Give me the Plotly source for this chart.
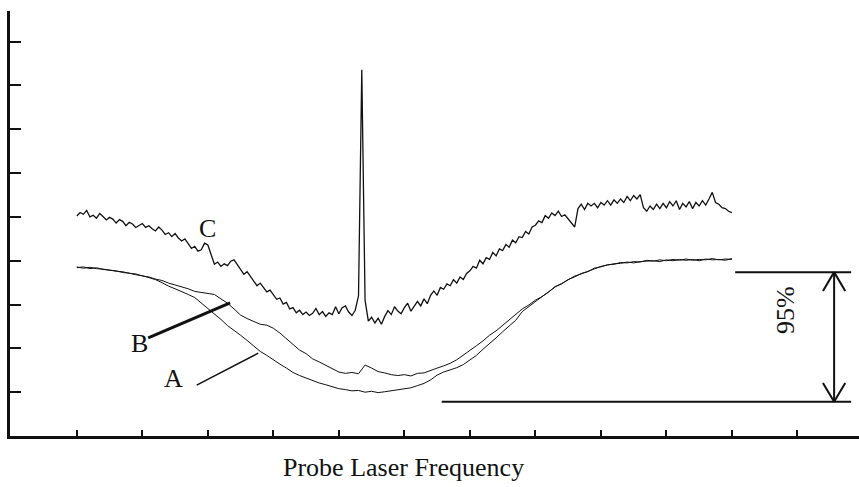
import plotly.graph_objects as go

# ---- data (arbitrary units, no tick labels) ----
freq_c = [round(i * 0.05, 2) for i in range(201)]          # frequency grid for trace C
freq_ab = [round(i * 0.1, 1) for i in range(101)]           # frequency grid for traces A, B

trace_c = [
    5.02, 5.10, 5.06, 5.15, 5.00, 5.04, 4.97, 5.08, 5.01, 4.93, 4.99, 4.95, 4.86, 4.94, 4.90, 4.80, 4.88, 4.84, 4.76, 4.80,
    4.85, 4.76, 4.80, 4.73, 4.68, 4.77, 4.70, 4.60, 4.64, 4.55, 4.62, 4.52, 4.45, 4.50, 4.38, 4.28, 4.33, 4.22, 4.25, 4.40,
    4.36, 4.12, 3.92, 3.97, 3.87, 3.93, 3.89, 3.99, 4.02, 3.91, 3.80, 3.69, 3.75, 3.64, 3.55, 3.43, 3.49, 3.38, 3.29, 3.33,
    3.22, 3.12, 3.15, 3.01, 3.05, 2.90, 2.93, 2.81, 2.87, 2.77, 2.83, 2.75, 2.80, 2.91, 2.77, 2.84, 2.73, 2.81, 2.77, 2.95,
    2.79, 2.93, 2.97, 2.83, 2.75, 2.87, 3.20, 8.36, 3.10, 2.62, 2.71, 2.58, 2.69, 2.55, 2.73, 2.86, 2.77, 2.95, 2.85, 2.79,
    2.93, 3.03, 2.85, 2.95, 3.07, 2.97, 3.13, 3.02, 3.21, 3.31, 3.21, 3.39, 3.35, 3.47, 3.43, 3.57, 3.49, 3.63, 3.57, 3.71,
    3.77, 3.87, 3.83, 4.01, 3.93, 4.07, 4.03, 4.19, 4.11, 4.27, 4.23, 4.37, 4.31, 4.47, 4.41, 4.55, 4.53, 4.67, 4.61, 4.77,
    4.81, 4.91, 4.87, 5.03, 4.97, 5.09, 5.03, 5.13, 5.01, 5.05, 4.95, 4.85, 4.77, 5.19, 5.29, 5.17, 5.31, 5.25, 5.31, 5.21,
    5.33, 5.27, 5.37, 5.27, 5.39, 5.31, 5.41, 5.33, 5.47, 5.37, 5.49, 5.41, 5.51, 5.21, 5.13, 5.25, 5.17, 5.29, 5.19, 5.31,
    5.21, 5.35, 5.25, 5.37, 5.17, 5.31, 5.23, 5.35, 5.19, 5.33, 5.25, 5.37, 5.27, 5.41, 5.56, 5.33, 5.29, 5.21, 5.19, 5.13,
    5.10,
]

trace_b = [
    3.84, 3.86, 3.82, 3.84, 3.80, 3.79, 3.76, 3.75, 3.71, 3.70,
    3.65, 3.63, 3.58, 3.55, 3.49, 3.45, 3.40, 3.36, 3.30, 3.28,
    3.25, 3.23, 3.13, 3.03, 2.90, 2.76, 2.68, 2.62, 2.55, 2.53,
    2.46, 2.35, 2.22, 2.10, 1.96, 1.88, 1.76, 1.69, 1.61, 1.53,
    1.46, 1.43, 1.45, 1.42, 1.62, 1.55, 1.47, 1.44, 1.40, 1.38,
    1.40, 1.37, 1.43, 1.44, 1.50, 1.55, 1.60, 1.66, 1.74, 1.84,
    1.94, 2.06, 2.17, 2.30, 2.40, 2.52, 2.66, 2.78, 2.90, 2.99,
    3.10, 3.18, 3.30, 3.40, 3.48, 3.56, 3.65, 3.70, 3.76, 3.82,
    3.87, 3.90, 3.93, 3.94, 3.97, 3.95, 3.98, 3.99, 4.00, 3.98,
    4.02, 4.00, 4.03, 4.01, 4.03, 4.00, 4.04, 4.02, 4.03, 4.01,
    4.05,
]

trace_a = [
    3.86, 3.83, 3.85, 3.82, 3.81, 3.78, 3.77, 3.73, 3.72, 3.68,
    3.66, 3.61, 3.57, 3.50, 3.42, 3.36, 3.30, 3.23, 3.16, 3.04,
    2.92, 2.80, 2.66, 2.52, 2.42, 2.30, 2.18, 2.06, 1.93, 1.84,
    1.73, 1.64, 1.55, 1.45, 1.38, 1.32, 1.26, 1.21, 1.17, 1.12,
    1.08, 1.06, 1.03, 1.04, 1.00, 1.02, 0.99, 1.01, 1.03, 1.05,
    1.07, 1.10, 1.15, 1.20, 1.28, 1.39, 1.46, 1.51, 1.56, 1.63,
    1.73, 1.84, 1.98, 2.10, 2.24, 2.38, 2.50, 2.64, 2.84, 2.96,
    3.08, 3.18, 3.28, 3.41, 3.47, 3.57, 3.63, 3.71, 3.75, 3.83,
    3.86, 3.91, 3.92, 3.96, 3.95, 3.98, 3.97, 4.01, 3.99, 4.02,
    4.00, 4.03, 4.01, 4.04, 4.01, 4.03, 4.02, 4.05, 4.02, 4.04,
    4.03,
]

x_ticks = list(range(0, 12))
y_ticks = list(range(1, 10))

FONT = "Liberation Serif, Times New Roman, serif"
INK = "#111111"

fig = go.Figure()
fig.add_trace(go.Scatter(x=freq_ab, y=trace_a, mode="lines", name="A",
                         line=dict(color=INK, width=1)))
fig.add_trace(go.Scatter(x=freq_ab, y=trace_b, mode="lines", name="B",
                         line=dict(color=INK, width=1)))
fig.add_trace(go.Scatter(x=freq_c, y=trace_c, mode="lines", name="C",
                         line=dict(color=INK, width=1.3)))

shapes = [
    # leader lines for labels
    dict(type="line", x0=1.09, y0=2.24, x1=2.34, y1=3.04, line=dict(color=INK, width=3)),
    dict(type="line", x0=1.83, y0=1.16, x1=2.77, y1=1.89, line=dict(color=INK, width=1.5)),
    # 95% bracket
    dict(type="line", x0=10.05, y0=3.74, x1=11.82, y1=3.74, line=dict(color=INK, width=2)),
    dict(type="line", x0=5.57, y0=0.78, x1=11.82, y1=0.78, line=dict(color=INK, width=2)),
    dict(type="line", x0=11.56, y0=3.74, x1=11.56, y1=0.78, line=dict(color=INK, width=2)),
    dict(type="line", x0=11.39, y0=3.31, x1=11.56, y1=3.74, line=dict(color=INK, width=2)),
    dict(type="line", x0=11.73, y0=3.31, x1=11.56, y1=3.74, line=dict(color=INK, width=2)),
    dict(type="line", x0=11.39, y0=1.21, x1=11.56, y1=0.78, line=dict(color=INK, width=2)),
    dict(type="line", x0=11.73, y0=1.21, x1=11.56, y1=0.78, line=dict(color=INK, width=2)),
]

annotations = [
    dict(x=1.99, y=4.73, text="C", showarrow=False, font=dict(family=FONT, size=26, color=INK)),
    dict(x=0.96, y=2.10, text="B", showarrow=False, font=dict(family=FONT, size=26, color=INK)),
    dict(x=1.48, y=1.32, text="A", showarrow=False, font=dict(family=FONT, size=26, color=INK)),
    dict(x=10.83, y=2.88, text="95%", textangle=-90, showarrow=False,
         font=dict(family=FONT, size=26, color=INK)),
    dict(x=0.464, y=-0.073, xref="paper", yref="paper", text="Probe Laser Frequency",
         showarrow=False, font=dict(family=FONT, size=26, color=INK), yanchor="middle"),
]

fig.update_layout(
    width=859, height=487,
    margin=dict(l=10, r=0, t=11, b=51),
    paper_bgcolor="white", plot_bgcolor="white",
    showlegend=False,
    shapes=shapes,
    annotations=annotations,
    xaxis=dict(range=[-1.02, 11.94], showgrid=False, zeroline=False,
               showline=True, linecolor=INK, linewidth=3,
               ticks="inside", tickvals=x_ticks, ticklen=6, tickwidth=1.5, tickcolor=INK,
               showticklabels=False, fixedrange=True),
    yaxis=dict(range=[0, 9.7], showgrid=False, zeroline=False,
               showline=True, linecolor=INK, linewidth=3,
               ticks="inside", tickvals=y_ticks, ticklen=11, tickwidth=1.5, tickcolor=INK,
               showticklabels=False, fixedrange=True),
)

fig.write_html("out.html", config={"displayModeBar": False},
               post_script="document.body.style.margin='0';document.body.style.overflow='hidden';")
